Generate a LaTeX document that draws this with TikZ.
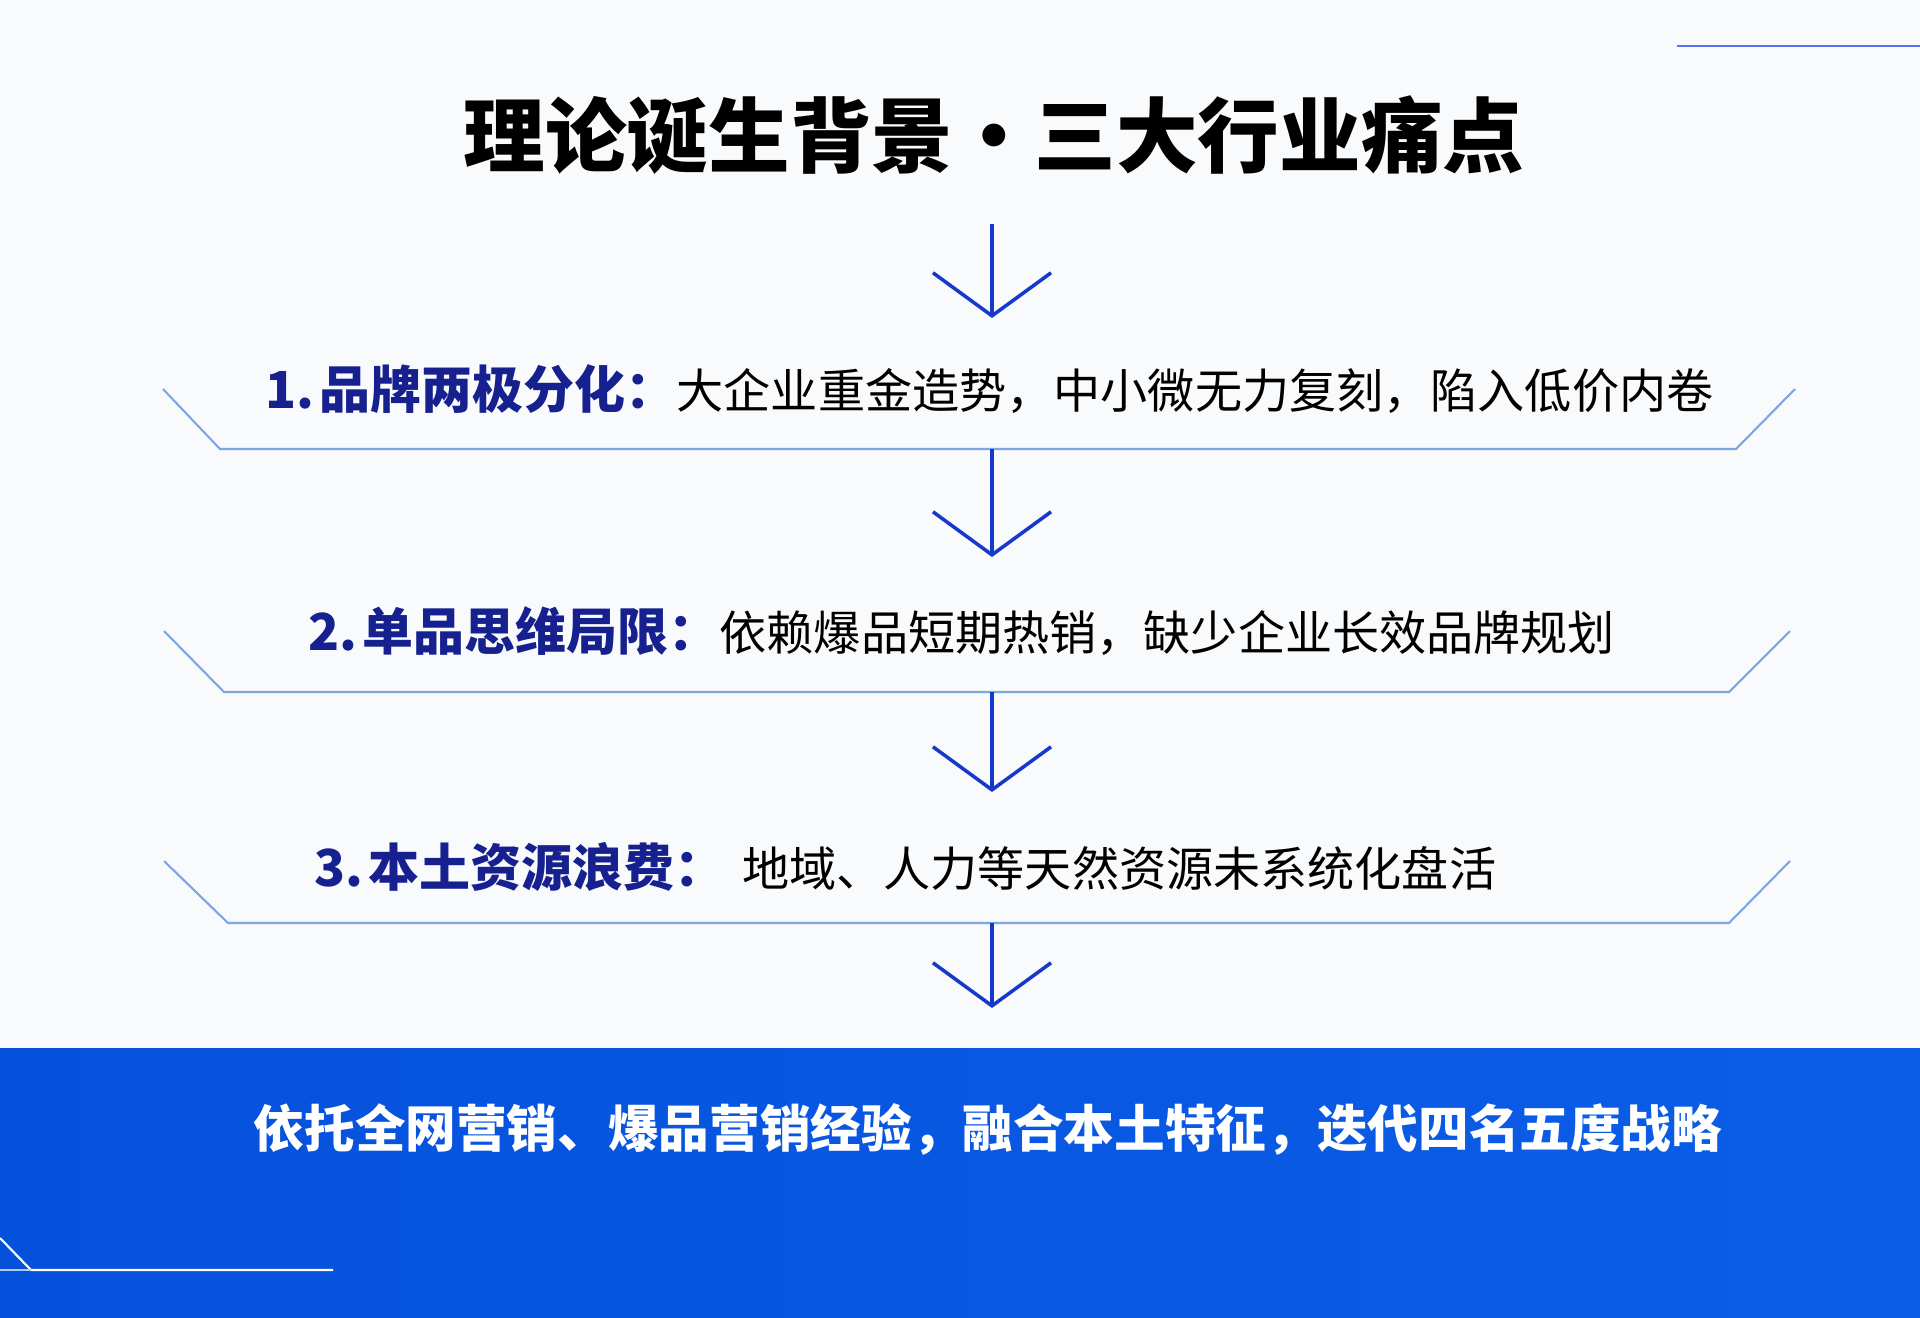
\documentclass[tikz,border=0pt]{standalone}
\usepackage{fontspec}
\setmainfont{Noto Sans CJK SC}
\usepackage{xcolor}
\usepackage{tikz}
\usetikzlibrary{arrows.meta}
\definecolor{pagebg}{HTML}{F8FAFC}
\definecolor{navy}{HTML}{16208F}
\definecolor{arrowblue}{HTML}{1638CC}
\definecolor{lineblue}{HTML}{7DA5E8}
\definecolor{bandleft}{HTML}{0651DC}
\definecolor{bandright}{HTML}{0B5DE7}
\tikzset{
	title node/.style={font=\fontsize{23.2}{28}\selectfont\bfseries,inner sep=0pt},
	point node/.style={anchor=west,inner sep=0pt,font=\fontsize{13.4}{16}\selectfont},
	band line/.style={draw=lineblue,line width=0.6pt},
	summary node/.style={text=white,inner sep=0pt,font=\fontsize{14.4}{18}\selectfont\bfseries}
}
\newcommand{\pointhead}[1]{{\color{navy}\fontsize{14.5}{18}\selectfont\bfseries #1}}

\begin{document}
\begin{tikzpicture}[x=0.01cm,y=-0.01cm,
	flow arrow/.style={draw=arrowblue,line width=1pt,-{Straight Barb[length=4.3mm,width=11.8mm]}}]
	\fill[pagebg] (0,0) rectangle (1920,1317);
	\useasboundingbox (0,0) rectangle (1920,1317);
	% accent at top right
	\coordinate (acc1) at (1677,46);
	\coordinate (acc2) at (1920,46);
	\draw[draw=lineblue!70!blue,line width=0.7pt] (acc1) -- (acc2);
	\node [title node] (title) at (994,135) {理论诞生背景·三大行业痛点};
	% the three pain points
	\node [point node] (p1) at (265,389) {\pointhead{1.\hspace{0.1em}品牌两极分化：}大企业重金造势，中小微无力复刻，陷入低价内卷};
	\node [point node] (p2) at (308,631) {\pointhead{2.\hspace{0.1em}单品思维局限：}依赖爆品短期热销，缺少企业长效品牌规划};
	\node [point node] (p3) at (314,867) {\pointhead{3.\hspace{0.1em}本土资源浪费：}\hspace{0.35em}地域、人力等天然资源未系统化盘活};
	\coordinate (b1l) at (163,389); \coordinate (b1a) at (220,449);
	\coordinate (b1b) at (1736,449); \coordinate (b1r) at (1795,389);
	\coordinate (b2l) at (164,631); \coordinate (b2a) at (224,692);
	\coordinate (b2b) at (1729,692); \coordinate (b2r) at (1790,631);
	\coordinate (b3l) at (164,861); \coordinate (b3a) at (228,923);
	\coordinate (b3b) at (1729,923); \coordinate (b3r) at (1790,861);
	\draw[band line] (b1l) -- (b1a) -- (b1b) -- (b1r);
	\draw[band line] (b2l) -- (b2a) -- (b2b) -- (b2r);
	\draw[band line] (b3l) -- (b3a) -- (b3b) -- (b3r);
	% arrows
	\coordinate (s0) at (992,224); \coordinate (e0) at (992,318);
	\coordinate (s1) at (992,449); \coordinate (e1) at (992,557);
	\coordinate (s2) at (992,692); \coordinate (e2) at (992,792);
	\coordinate (s3) at (992,923); \coordinate (e3) at (992,1008);
	\draw[flow arrow] (s0) -- (e0);
	\draw[flow arrow] (s1) -- (e1);
	\draw[flow arrow] (s2) -- (e2);
	\draw[flow arrow] (s3) -- (e3);
	% summary band
	\shade[left color=bandleft,right color=bandright] (0,1048) rectangle (1920,1317);
	\node [summary node] (sum) at (988,1129) {依托全网营销、爆品营销经验，融合本土特征，迭代四名五度战略};
	\coordinate (c1) at (0,1238); \coordinate (c2) at (31,1270);
	\coordinate (c3) at (333,1270); \coordinate (c0) at (0,1270);
	\draw[white,line width=0.6pt] (c1) -- (c2) -- (c3);
	\draw[white!70!bandleft,line width=0.6pt] (c0) -- (c2);
\end{tikzpicture}
\end{document}
